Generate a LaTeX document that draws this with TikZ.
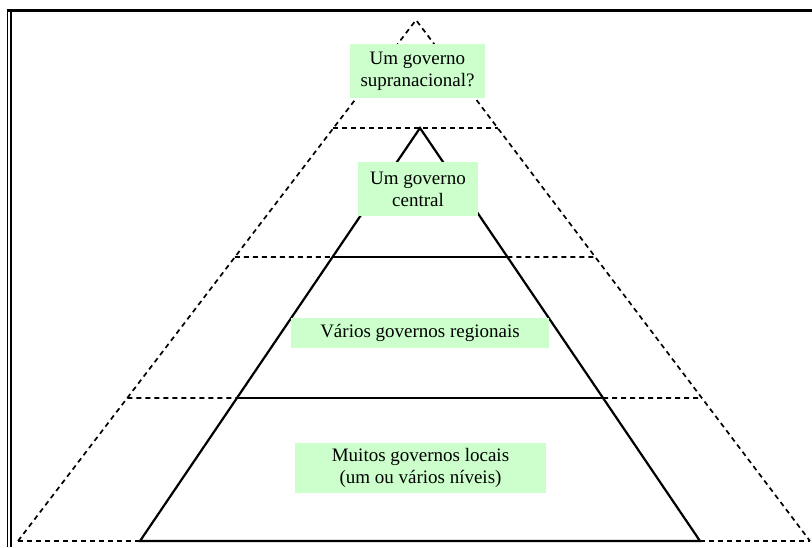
\documentclass[tikz,border=0pt]{standalone}
\usepackage{fontspec}
\setmainfont{Liberation Serif}
\usetikzlibrary{calc}
\definecolor{boxgreen}{RGB}{204,255,204}
\tikzset{
  dsh/.style={line width=1.7pt, dash pattern=on 5pt off 4pt},
  sol/.style={line width=2.2pt},
  lbl/.style={fill=boxgreen, inner sep=0pt, align=center, font=\fontsize{19}{22}\selectfont, text=black},
  frame/.style={line width=1.1pt}
}
\begin{document}
\begin{tikzpicture}[x=1pt,y=-1pt]
\useasboundingbox (0,0) rectangle (812,547);
% frame
\draw[line width=3pt] (6.5,10.5) -- (812,10.5);
\draw[frame] (7.8,9) -- (7.8,547);
\draw[frame] (11,12) -- (11,547);
% outer (dashed) triangle
\coordinate (oA) at (416,20);
\coordinate (oL) at (18,541);
\coordinate (oR) at (810,541);
% inner (solid) triangle
\coordinate (iA) at (420,128);
\coordinate (iL) at (140,541);
\coordinate (iR) at (700,541);
% points on the sides
\coordinate (oL1) at ($(oA)!0.2073!(oL)$);
\coordinate (oR1) at ($(oA)!0.2073!(oR)$);
\coordinate (oL2) at ($(oA)!0.4549!(oL)$);
\coordinate (oR2) at ($(oA)!0.4549!(oR)$);
\coordinate (oL3) at ($(oA)!0.7255!(oL)$);
\coordinate (oR3) at ($(oA)!0.7255!(oR)$);
\coordinate (iL2) at ($(iA)!0.3123!(iL)$);
\coordinate (iR2) at ($(iA)!0.3123!(iR)$);
\coordinate (iL3) at ($(iA)!0.6538!(iL)$);
\coordinate (iR3) at ($(iA)!0.6538!(iR)$);
% dashed lines
\draw[dsh] (oL) -- (oA) -- (oR);
\draw[dsh] (oL) -- (iL);
\draw[dsh] (iR) -- (oR);
\draw[dsh] (oL1) -- (oR1);
\draw[dsh] (oL2) -- (iL2);
\draw[dsh] (iR2) -- (oR2);
\draw[dsh] (oL3) -- (iL3);
\draw[dsh] (iR3) -- (oR3);
% solid lines
\draw[sol, line join=miter] (iL) -- (iA) -- (iR) -- cycle;
\draw[sol] (iL2) -- (iR2);
\draw[sol] (iL3) -- (iR3);
% labels
\node[lbl, minimum width=135pt, minimum height=54pt] (n1) at (417.5,71) {Um governo\\supranacional?};
\node[lbl, minimum width=120pt, minimum height=54pt] (n2) at (418,189) {Um governo\\central};
\node[lbl, minimum width=258pt, minimum height=30pt] (n3) at (420,333) {Vários governos regionais};
\node[lbl, minimum width=251pt, minimum height=50pt] (n4) at (420.5,468) {Muitos governos locais\\(um ou vários níveis)};
\end{tikzpicture}
\end{document}
